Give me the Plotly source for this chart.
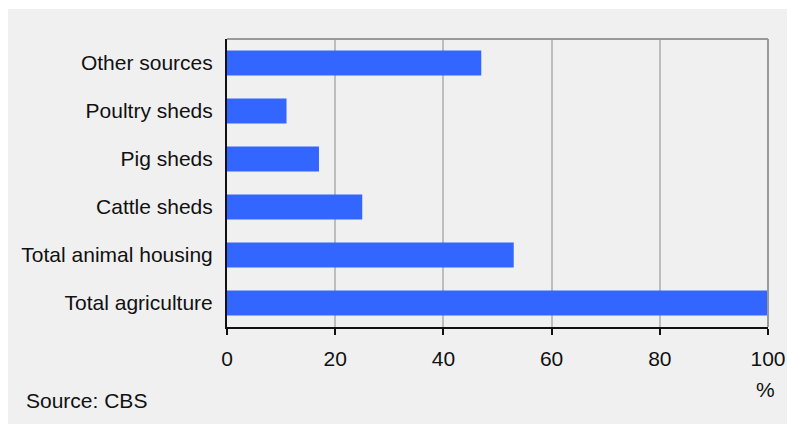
import plotly.graph_objects as go

categories = ["Total agriculture", "Total animal housing", "Cattle sheds",
              "Pig sheds", "Poultry sheds", "Other sources"]
values = [100, 53, 25, 17, 11, 47]
x_ticks = [0, 20, 40, 60, 80, 100]

W, H = 787, 424
L, R, T, B = 227, 19, 39, 97
pw, ph = W - L - R, H - T - B

def px_x(p):
    return (p - L) / pw

def px_y(p):
    return (H - B - p) / ph

FONT = "Liberation Sans, Arial, sans-serif"
FS = 21

fig = go.Figure(go.Bar(
    x=values, y=categories, orientation="h",
    marker=dict(color="#3366ff", line=dict(width=0)),
    width=0.52,
))

fig.update_layout(
    width=W, height=H, autosize=False,
    margin=dict(l=L, r=R, t=T, b=B, pad=0, autoexpand=False),
    paper_bgcolor="white",
    plot_bgcolor="rgba(0,0,0,0)",
    font=dict(family=FONT, size=FS, color="#111111"),
    showlegend=False,
    bargap=0.48,
    xaxis=dict(
        range=[0, 100], tickvals=x_ticks, ticktext=[str(v) for v in x_ticks],
        showgrid=True, gridcolor="#bdbdbd", gridwidth=2,
        showline=True, linecolor="#111111", linewidth=2,
        ticks="outside", ticklen=6, tickwidth=2, tickcolor="#111111",
        zeroline=False, ticklabelstandoff=6, automargin=False,
    ),
    yaxis=dict(
        range=[-0.5, 5.5], type="category",
        showgrid=False, showline=True, linecolor="#111111", linewidth=2,
        ticks="", ticklabelstandoff=8, zeroline=False, automargin=False,
    ),
    shapes=[
        dict(type="rect", xref="paper", yref="paper",
             x0=px_x(8), x1=px_x(W + 2), y0=px_y(H + 2), y1=px_y(9),
             fillcolor="#f0f0f0", line=dict(width=0), layer="below"),
        dict(type="line", xref="paper", yref="paper",
             x0=0, x1=1, y0=1, y1=1, line=dict(color="#999999", width=2)),
        dict(type="line", xref="paper", yref="paper",
             x0=1, x1=1, y0=0, y1=1, line=dict(color="#999999", width=2)),
    ],
    annotations=[
        dict(text="%", xref="paper", yref="paper", x=px_x(765), y=px_y(389),
             xanchor="center", yanchor="middle", showarrow=False,
             font=dict(family=FONT, size=FS, color="#111111")),
        dict(text="Source: CBS", xref="paper", yref="paper", x=px_x(24), y=px_y(400),
             xanchor="left", yanchor="middle", showarrow=False,
             font=dict(family=FONT, size=FS, color="#111111")),
    ],
)

fig.write_html("out.html", config={"responsive": False})
